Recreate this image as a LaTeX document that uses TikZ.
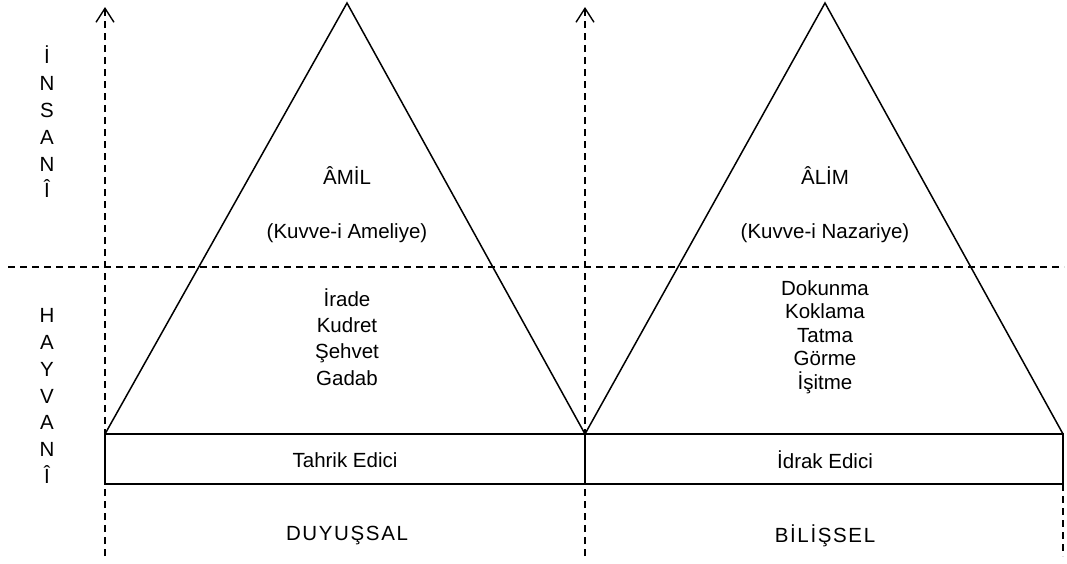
\documentclass[tikz,border=0pt]{standalone}
\usepackage{fontspec}
\setmainfont{Liberation Sans}
\usetikzlibrary{arrows.meta}
\begin{document}
\begin{tikzpicture}[x=1pt,y=-1pt,
  solidline/.style={line width=1.5pt, line join=miter},
  guide/.style={line width=1.4pt, dash pattern=on 7pt off 5pt},
  axis/.style={guide, -{Straight Barb[length=14pt,width=18pt,line width=1.4pt]}},
  label/.style={inner sep=0pt, font=\fontsize{20.5}{23.6}\selectfont, align=center},
  spaced/.style={label, font=\fontsize{20.5}{23.6}\selectfont\addfontfeatures{LetterSpace=8}}]
\useasboundingbox (0,0) rectangle (1067,563);

% key points
\coordinate (bl) at (105,434);
\coordinate (bm) at (585,434);
\coordinate (br) at (1063,434);
\coordinate (ll) at (105,484);
\coordinate (lm) at (585,484);
\coordinate (lr) at (1063,484);
\coordinate (apexA) at (347,3);
\coordinate (apexB) at (825,3);
\coordinate (axisA) at (105,7);
\coordinate (axisB) at (585,7);
\coordinate (footA) at (105,556);
\coordinate (footB) at (585,556);
\coordinate (footC) at (1063,556);
\coordinate (hl) at (8,267);
\coordinate (hr) at (1064,267);

% dashed guides
\draw[axis] (footA) -- (axisA);
\draw[axis] (footB) -- (axisB);
\draw[guide] (lr) -- (footC);
\draw[guide] (hl) -- (hr);

% triangles and base strip
\draw[solidline] (bl) -- (apexA) -- (bm);
\draw[solidline] (bm) -- (apexB) -- (br);
\draw[solidline] (bl) rectangle (lr);
\draw[solidline] (bm) -- (lm);

% left scale letters
\node[label, font=\fontsize{20.5}{26.8}\selectfont] (insani) at (47,122) {İ\\N\\S\\A\\N\\Î};
\node[label, font=\fontsize{20.5}{26.8}\selectfont] (hayvani) at (47,396) {H\\A\\Y\\V\\A\\N\\Î};

% first triangle
\node[label] (amil) at (347,176) {ÂMİL};
\node[label] (ameliye) at (347,233) {(Kuvve-i Ameliye)};
\node[label, font=\fontsize{20.5}{26.3}\selectfont] (listA) at (347,337) {İrade\\Kudret\\Şehvet\\Gadab};
\node[label] (tahrik) at (345,460) {Tahrik Edici};
\node[spaced] (duyussal) at (347,536) {DUYUŞSAL};

% second triangle
\node[label] (alim) at (825,176) {ÂLİM};
\node[label] (nazariye) at (825,233) {(Kuvve-i Nazariye)};
\node[label] (listB) at (825,337) {Dokunma\\Koklama\\Tatma\\Görme\\İşitme};
\node[label] (idrak) at (825,460) {İdrak Edici};
\node[spaced] (bilissel) at (825,536) {BİLİŞSEL};
\end{tikzpicture}
\end{document}
